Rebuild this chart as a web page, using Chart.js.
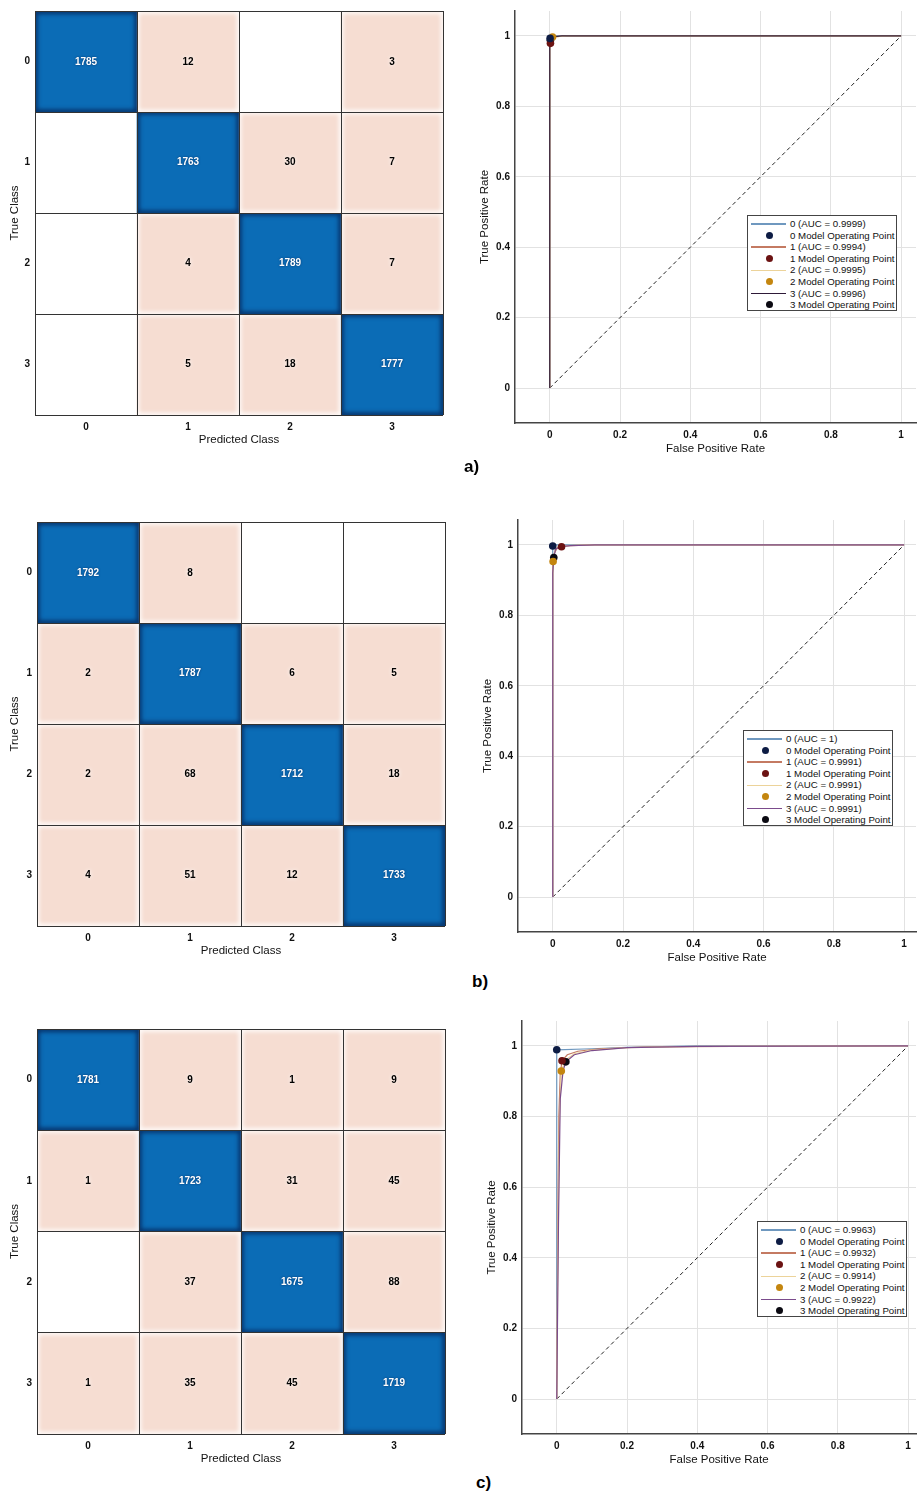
<!DOCTYPE html>
<html>
<head>
<meta charset="utf-8">
<script src="https://cdn.jsdelivr.net/npm/chart.js@4.4.1/dist/chart.umd.min.js"></script>
<style>
  body { margin: 0; width: 920px; height: 1494px; background: #fff; position: relative; overflow: hidden;
         font-family: "Liberation Sans", Arial, sans-serif; }
  canvas { position: absolute; }
  .tag { position: absolute; font-weight: bold; font-size: 17px; color: #000; }
  .legend { position: absolute; background: #fff; border: 1px solid #444; box-sizing: border-box; }
  .legend .row { position: absolute; left: 0; height: 11.5px; width: 100%; font-size: 9.7px; line-height: 11.5px; color: #111; white-space: nowrap; }
  .legend .ln { position: absolute; left: 3px; top: 5.2px; width: 35px; height: 1.3px; }
  .legend .dot { position: absolute; left: 18px; top: 2.2px; width: 7px; height: 7px; border-radius: 50%; }
  .legend .txt { position: absolute; left: 42px; top: 0; color: #111; }
</style>
</head>
<body>
<script>
const classes = ['0', '1', '2', '3'];

// confusion matrices (rows = true class, cols = predicted class)
const confA = [[1785, 12, 0, 3], [0, 1763, 30, 7], [0, 4, 1789, 7], [0, 5, 18, 1777]];
const confB = [[1792, 8, 0, 0], [2, 1787, 6, 5], [2, 68, 1712, 18], [4, 51, 12, 1733]];
const confC = [[1781, 9, 1, 9], [1, 1723, 31, 45], [0, 37, 1675, 88], [1, 35, 45, 1719]];

const aucA = ['0.9999', '0.9994', '0.9995', '0.9996'];
const aucB = ['1', '0.9991', '0.9991', '0.9991'];
const aucC = ['0.9963', '0.9932', '0.9914', '0.9922'];

// ROC curves
const fprA = [[0, 0, 0.001, 0.003, 0.01, 0.03, 1], [0, 0, 0.002, 0.006, 0.015, 0.04, 1],
              [0, 0, 0.003, 0.008, 0.02, 0.05, 1], [0, 0, 0.002, 0.005, 0.012, 0.035, 1]];
const tprA = [[0, 0.985, 0.993, 0.997, 0.999, 1, 1], [0, 0.97, 0.979, 0.99, 0.997, 1, 1],
              [0, 0.98, 0.988, 0.994, 0.998, 1, 1], [0, 0.975, 0.988, 0.994, 0.998, 1, 1]];
const opA = [[0.001, 0.993], [0.002, 0.979], [0.008, 0.997], [0.002, 0.988]];

const fprB = [[0, 0, 0.004, 0.01, 1], [0, 0, 0.004, 0.012, 0.025, 0.05, 0.12, 1],
              [0, 0, 0.001, 0.006, 0.015, 0.04, 0.1, 1], [0, 0, 0.003, 0.008, 0.02, 0.05, 0.12, 1]];
const tprB = [[0, 0.997, 0.999, 1, 1], [0, 0.94, 0.975, 0.99, 0.995, 0.998, 1, 1],
              [0, 0.9, 0.953, 0.985, 0.995, 0.998, 1, 1], [0, 0.92, 0.964, 0.988, 0.995, 0.998, 1, 1]];
const opB = [[0, 0.997], [0.025, 0.995], [0.001, 0.953], [0.003, 0.964]];

const fprC = [[0, 0, 0.1, 0.2, 0.4, 1],
              [0, 0.003, 0.006, 0.01, 0.015, 0.03, 0.06, 0.12, 0.25, 0.5, 1],
              [0, 0.004, 0.008, 0.013, 0.025, 0.05, 0.1, 0.2, 0.4, 1],
              [0, 0.005, 0.01, 0.018, 0.026, 0.05, 0.1, 0.2, 0.4, 1]];
const tprC = [[0, 0.989, 0.992, 0.996, 1, 1],
              [0, 0.5, 0.8, 0.92, 0.958, 0.975, 0.985, 0.992, 0.997, 0.999, 1],
              [0, 0.5, 0.8, 0.929, 0.96, 0.978, 0.988, 0.995, 0.999, 1],
              [0, 0.5, 0.85, 0.93, 0.955, 0.975, 0.987, 0.995, 0.999, 1]];
const opC = [[0, 0.989], [0.015, 0.958], [0.013, 0.929], [0.026, 0.955]];

const rocTicks = [0, 0.2, 0.4, 0.6, 0.8, 1];
const tags = ['a)', 'b)', 'c)'];

// colours
const lineColors = ['#6f98bf', '#c47a62', '#ecd39a', '#7b4b8c'];
const dotColors = ['#0d1c44', '#6b1212', '#c4860f', '#0b0a12'];
const diagColor = '#0b6cb6', offColor = '#f6ddd2';

// layout (pixel boxes on the page)
const cmAreas = [[35, 9, 443, 415], [37, 520, 445, 926], [37, 1027, 445, 1434]];
const rocAreas = [[515, 10, 919, 423], [518, 519, 919, 932], [522, 1020, 919, 1434]];
const rocRefs = [[550, 904, 388, 35], [553, 907, 897, 544], [557, 911, 1399, 1045]]; // px of x=0, x=1, y=0, y=1
const legendPos = [[747, 215], [743, 730], [757, 1221]];
const tagPos = [[464, 457], [472, 972], [476, 1473]];

const FONT = '"Liberation Sans", Arial, sans-serif';
Chart.defaults.font.family = FONT;
Chart.defaults.color = '#111';

function addCanvas(left, top, w, h) {
    const c = document.createElement('canvas');
    c.width = w; c.height = h;
    c.style.left = left + 'px'; c.style.top = top + 'px';
    c.style.width = w + 'px'; c.style.height = h + 'px';
    document.body.appendChild(c);
    return c;
}

function makeConfusion(matrix, area) {
    const [l, t, r, b] = area;
    const top = t - 9, w = 460, h = b - top + 36;
    const canvas = addCanvas(0, top, w, h);

    const datasets = matrix.map((row, ri) => ({
        data: row.map(() => [ri, ri + 1]),
        backgroundColor: row.map((v, ci) => v === 0 ? '#ffffff' : (ci === ri ? diagColor : offColor)),
        borderWidth: 0,
        grouped: false,
        barPercentage: 1,
        categoryPercentage: 1
    }));

    const cellPlugin = {
        id: 'cells',
        afterDatasetsDraw(chart) {
            const ctx = chart.ctx;
            chart.data.datasets.forEach((ds, ri) => {
                chart.getDatasetMeta(ri).data.forEach((el, ci) => {
                    const v = matrix[ri][ci];
                    if (v === 0) return;
                    const p = el.getProps(['x', 'y', 'base', 'width'], true);
                    const x0 = p.x - p.width / 2, y0 = Math.min(p.y, p.base);
                    const cw = p.width, chh = Math.abs(p.y - p.base);
                    const diag = ri === ci;
                    // soft inner edge
                    ctx.save();
                    ctx.beginPath(); ctx.rect(x0, y0, cw, chh); ctx.clip();
                    ctx.filter = 'blur(2px)';
                    ctx.lineWidth = diag ? 5 : 4;
                    ctx.strokeStyle = diag ? 'rgba(6,45,100,0.95)' : '#ffffff';
                    ctx.strokeRect(x0, y0, cw, chh);
                    ctx.restore();
                    // value
                    ctx.save();
                    ctx.font = 'bold 10px ' + FONT;
                    ctx.textAlign = 'center';
                    ctx.textBaseline = 'middle';
                    if (diag) {
                        ctx.fillStyle = '#ffffff';
                        ctx.shadowColor = 'rgba(0,30,80,0.8)';
                        ctx.shadowBlur = 2;
                    } else {
                        ctx.fillStyle = '#000000';
                        ctx.shadowColor = '#ffffff';
                        ctx.shadowBlur = 4;
                    }
                    ctx.fillText(String(v), x0 + cw / 2, y0 + chh / 2);
                    ctx.restore();
                });
            });
        }
    };

    new Chart(canvas, {
        type: 'bar',
        data: { labels: classes, datasets: datasets },
        options: {
            animation: false,
            responsive: false,
            layout: { padding: { top: t - top, right: w - r, left: 0, bottom: 0 } },
            plugins: { legend: { display: false }, tooltip: { enabled: false } },
            scales: {
                x: {
                    type: 'category',
                    offset: true,
                    grid: { offset: true, color: '#333', lineWidth: 1, drawTicks: false, z: 1 },
                    border: { display: false },
                    ticks: { padding: 6, font: { size: 10, weight: 'bold' }, color: '#111' },
                    title: { display: true, text: 'Predicted Class', font: { size: 11.5 }, color: '#111',
                             padding: { top: 0, bottom: 36 - 25 - 6.9 } },
                    afterFit(s) { s.height = 36; }
                },
                y: {
                    type: 'linear',
                    min: 0, max: 4,
                    reverse: true,
                    afterBuildTicks(s) { s.ticks = [0, 0.5, 1, 1.5, 2, 2.5, 3, 3.5, 4].map(v => ({ value: v })); },
                    grid: {
                        drawTicks: false, lineWidth: 1, z: 1,
                        color: c => (c.tick && Number.isInteger(c.tick.value)) ? '#333' : 'rgba(0,0,0,0)'
                    },
                    border: { display: false },
                    ticks: {
                        autoSkip: false, padding: 5, font: { size: 10, weight: 'bold' }, color: '#111',
                        callback: v => Number.isInteger(v) ? '' : classes[v - 0.5]
                    },
                    title: { display: true, text: 'True Class', font: { size: 11.5 }, color: '#111',
                             padding: { top: 15 - 6.9, bottom: 0 } },
                    afterFit(s) { s.width = l; }
                }
            }
        },
        plugins: [cellPlugin]
    });
}

function makeRoc(fpr, tpr, op, area, ref, line3) {
    const [l, t, r, b] = area;
    const [px0, px1, py0, py1] = ref;
    const left = 460, top = t - 10, w = 460, h = b - top + 36;
    const canvas = addCanvas(left, top, w, h);
    const xmin = (l - px0) / (px1 - px0), xmax = (r - px0) / (px1 - px0);
    const ymin = (py0 - b) / (py0 - py1), ymax = (py0 - t) / (py0 - py1);
    const lc = lineColors.slice(); lc[3] = line3;

    const datasets = [];
    op.forEach((p, k) => datasets.push({
        data: [{ x: p[0], y: p[1] }],
        showLine: false, pointRadius: 3.8, pointBorderWidth: 0,
        pointBackgroundColor: dotColors[k], order: 0
    }));
    fpr.forEach((xs, k) => datasets.push({
        data: xs.map((x, i) => ({ x: x, y: tpr[k][i] })),
        showLine: true, borderColor: lc[k], borderWidth: 1.2, pointRadius: 0, order: 4 - k
    }));
    datasets.push({
        data: [{ x: 0, y: 0 }, { x: 1, y: 1 }],
        showLine: true, borderColor: '#222', borderWidth: 1, borderDash: [4, 3], pointRadius: 0, order: 5
    });

    const axis = (min, max) => ({
        type: 'linear', min: min, max: max,
        afterBuildTicks(s) { s.ticks = rocTicks.map(v => ({ value: v })); },
        grid: { color: '#e2e2e2', lineWidth: 1, drawTicks: false },
        border: { color: '#444', width: 1.5 },
        ticks: { autoSkip: false, padding: 6, font: { size: 10, weight: 'bold' }, color: '#111',
                 callback: v => String(Math.round(v * 10) / 10) }
    });
    const xAxis = axis(xmin, xmax);
    xAxis.title = { display: true, text: 'False Positive Rate', font: { size: 11.5 }, color: '#111',
                    padding: { top: 0, bottom: 36 - 26 - 6.9 } };
    xAxis.afterFit = s => { s.height = 36; };
    const yAxis = axis(ymin, ymax);
    yAxis.ticks.padding = 5;
    yAxis.title = { display: true, text: 'True Positive Rate', font: { size: 11.5 }, color: '#111',
                    padding: { top: (l - 30 - left) - 6.9, bottom: 0 } };
    yAxis.afterFit = s => { s.width = l - left; };

    new Chart(canvas, {
        type: 'scatter',
        data: { datasets: datasets },
        options: {
            animation: false,
            responsive: false,
            layout: { padding: { top: t - top, right: left + w - r, left: 0, bottom: 0 } },
            plugins: { legend: { display: false }, tooltip: { enabled: false } },
            scales: { x: xAxis, y: yAxis }
        }
    });
}

function makeLegend(auc, pos, line3) {
    const box = document.createElement('div');
    box.className = 'legend';
    box.style.left = pos[0] + 'px';
    box.style.top = pos[1] + 'px';
    box.style.width = '150px';
    box.style.height = '96px';
    const lc = lineColors.slice(); lc[3] = line3;
    let html = '';
    classes.forEach((c, k) => {
        const y1 = 2.2 + (2 * k) * 11.55, y2 = 2.2 + (2 * k + 1) * 11.55;
        html += `<div class="row" style="top:${y1}px"><div class="ln" style="background:${lc[k]}"></div>` +
                `<span class="txt">${c} (AUC = ${auc[k]})</span></div>`;
        html += `<div class="row" style="top:${y2}px"><div class="dot" style="background:${dotColors[k]}"></div>` +
                `<span class="txt">${c} Model Operating Point</span></div>`;
    });
    box.innerHTML = html;
    document.body.appendChild(box);
}

const panels = [
    { conf: confA, auc: aucA, fpr: fprA, tpr: tprA, op: opA, line3: '#2e1a38' },
    { conf: confB, auc: aucB, fpr: fprB, tpr: tprB, op: opB, line3: '#7b4b8c' },
    { conf: confC, auc: aucC, fpr: fprC, tpr: tprC, op: opC, line3: '#7b4b8c' }
];

panels.forEach((p, i) => {
    makeConfusion(p.conf, cmAreas[i]);
    makeRoc(p.fpr, p.tpr, p.op, rocAreas[i], rocRefs[i], p.line3);
    makeLegend(p.auc, legendPos[i], p.line3);
    const tag = document.createElement('div');
    tag.className = 'tag';
    tag.textContent = tags[i];
    tag.style.left = tagPos[i][0] + 'px';
    tag.style.top = tagPos[i][1] + 'px';
    document.body.appendChild(tag);
});
</script>
</body>
</html>
